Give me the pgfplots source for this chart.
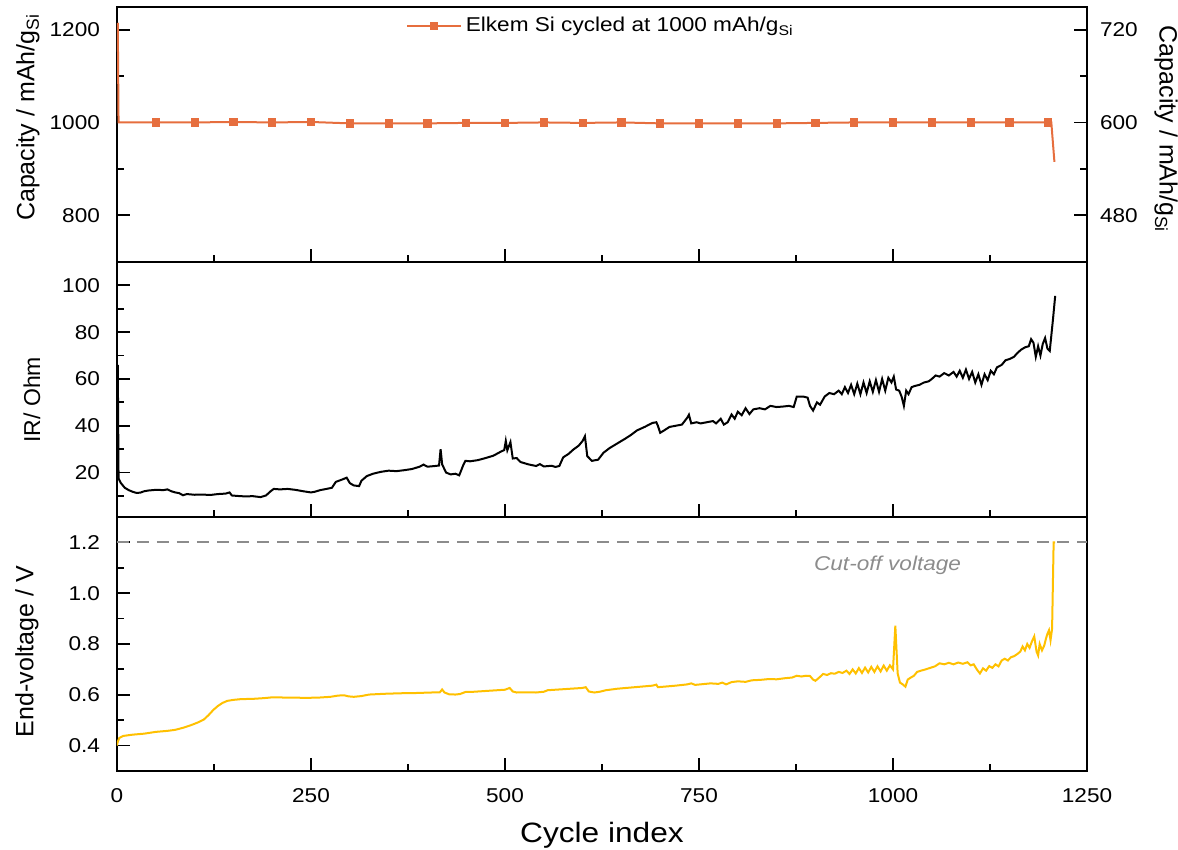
\documentclass[border=0pt]{standalone}
\usepackage{fontspec}
\setmainfont{Liberation Sans}[FakeStretch=1.13]
\newfontfamily\ylabfont{Liberation Sans}
\usepackage{pgfplots}
\pgfplotsset{compat=1.18}
\definecolor{capc}{RGB}{230,110,62}
\definecolor{volc}{RGB}{255,192,0}
\definecolor{cutc}{RGB}{140,140,140}
\pgfplotsset{
  panel/.style={
    scale only axis, width=485pt,
    xmin=0, xmax=1250,
    xtick={0,250,...,1250}, minor xtick={125,375,...,1125},
    xtick pos=left, ytick pos=left,
    tick align=inside,
    major tick length=6.5pt, minor tick length=3.5pt,
    every tick/.style={black, line width=0.9pt},
    axis line style={line width=1pt},
    tick label style={font=\fontsize{10}{12}\selectfont},
    /pgf/number format/assume math mode=true,
    /pgf/number format/set thousands separator={},
    yticklabel style={xshift=-5pt},
    xticklabel style={yshift=-5pt},
    every axis y label/.style={},
  },
}
\begin{document}
\begin{tikzpicture}
\useasboundingbox (0,0) rectangle (589pt,425pt);
% ---------------- top panel ----------------
\begin{axis}[panel,
  at={(58.5pt,294pt)}, anchor=south west, height=127.5pt,
  ymin=699, ymax=1249,
  ytick={800,1000,1200}, minor ytick={900,1100},
  xticklabels={},
  ylabel={Capacity / mAh/g\textsubscript{Si}},
  ylabel style={at={(axis description cs:0,0.567)}, xshift=-44.5pt, rotate=90, anchor=center,
    font=\ylabfont\fontsize{12.5}{14}\selectfont},
  legend style={at={(axis description cs:0.5,1)}, anchor=north, draw=none, fill=none,
    font=\fontsize{10}{12}\selectfont, yshift=-1pt},
]
\addplot[capc, line width=1pt, forget plot] coordinates {
(1,1215) (2,1000) (50,1000) (100,1000) (150,1001) (200,1000) (250,1001) (300,998)
(350,998) (400,998) (450,999) (500,999) (550,1000) (600,999) (650,1000) (700,998)
(750,998) (800,998) (850,998) (900,999) (950,1000) (1000,1000) (1050,1000) (1100,1000)
(1150,1000) (1200,1000) (1204,1000) (1208,915)};
\addplot[capc, only marks, mark=square*, mark size=1.8pt,
  legend image code/.code={
    \draw[capc, line width=1pt] (0cm,0cm) -- (0.94cm,0cm);
    \fill[capc] (0.47cm-1.8pt,-1.8pt) rectangle (0.47cm+1.8pt,1.8pt);}]
coordinates {
(50,1000) (100,1000) (150,1001) (200,1000) (250,1001) (300,998) (350,998) (400,998)
(450,999) (500,999) (550,1000) (600,999) (650,1000) (700,998) (750,998) (800,998)
(850,998) (900,999) (950,1000) (1000,1000) (1050,1000) (1100,1000) (1150,1000) (1200,1000)};
\addlegendentry{Elkem Si cycled at 1000 mAh/g\textsubscript{Si}}
\end{axis}
% right axis of top panel
\begin{axis}[
  scale only axis, width=485pt, height=127.5pt,
  at={(58.5pt,294pt)}, anchor=south west,
  xmin=0, xmax=1250, axis x line=none,
  axis y line*=right,
  ymin=419.4, ymax=749.4,
  ytick={480,600,720}, minor ytick={540,660},
  tick align=inside,
  major tick length=6.5pt, minor tick length=3.5pt,
  every tick/.style={black, line width=0.9pt},
  axis line style={line width=1pt},
  tick label style={font=\fontsize{10}{12}\selectfont},
  /pgf/number format/assume math mode=true,
  yticklabel style={xshift=3pt},
  ylabel={Capacity / mAh/g\textsubscript{Si}},
  every axis y label/.style={at={(axis description cs:1,0.52)}, xshift=39.5pt, rotate=-90, anchor=center,
    font=\ylabfont\fontsize{12.5}{14}\selectfont},
]
\addplot[draw=none] coordinates {(0,600)};
\end{axis}
% ---------------- middle panel ----------------
\begin{axis}[panel,
  at={(58.5pt,166.5pt)}, anchor=south west, height=127.5pt,
  ymin=1, ymax=110,
  ytick={20,40,...,100}, minor ytick={10,30,...,90},
  xticklabels={},
  ylabel={IR/ Ohm},
  ylabel style={at={(axis description cs:0,0.46)}, xshift=-42.5pt, rotate=90, anchor=center,
    font=\ylabfont\fontsize{11.5}{14}\selectfont},
]
\addplot[black, line width=1pt] coordinates {
(1,66) (2,17.5) (5,15.5) (10,13.5) (15,12.5) (20,11.8) (25,11.3) (30,11.4) (35,12) (40,12.3)
(50,12.6) (60,12.5) (65,12.8) (70,12) (75,11.5) (80,11.2) (85,10.3) (90,10.8) (100,10.5)
(110,10.6) (120,10.4) (130,10.8) (140,11) (145,11.5) (148,10.2) (155,10) (165,9.8) (175,9.9)
(185,9.5) (192,10.2) (198,12) (202,13) (210,12.8) (220,13) (230,12.6) (240,12) (250,11.5)
(255,11.8) (262,12.5) (270,13) (277,13.5) (282,16) (290,17) (296,17.8) (300,15.5) (305,14.5)
(312,14.2) (315,16.5) (322,18.5) (330,19.5) (340,20.3) (350,20.8) (360,20.6) (370,21)
(380,21.5) (390,22.5) (395,23.4) (400,22.5) (410,22.8) (415,23) (417,30) (419,23.5)
(424,20) (430,19.2) (436,19.5) (441,18.8) (446,23) (449,25) (455,24.8) (465,25.3)
(475,26.2) (485,27.2) (495,29) (499,29.6) (501,33.5) (503,29.5) (507,33) (510,26)
(515,26.2) (520,24.5) (530,23.5) (540,22.8) (545,23.6) (550,22.6) (560,22.9) (565,22.4)
(570,22.8) (575,26.5) (582,28) (588,29.8) (595,31.5) (600,33.5) (603,35.5) (606,27)
(612,25) (620,25.5) (627,28.5) (635,30.5) (645,32.5) (655,34.5) (662,36) (670,38)
(680,39.5) (690,41.2) (695,41.5) (697,40) (700,37) (705,38) (712,39.5) (720,40)
(728,40.5) (735,43.5) (737,44.7) (740,41) (747,41.5) (752,41) (760,41.5) (768,42)
(772,41) (778,43) (782,40.5) (787,41.5) (792,44.8) (796,43) (800,46) (805,44.5)
(810,47.5) (815,45) (820,47) (828,47.5) (835,47) (842,48.5) (850,48) (858,48.2)
(866,48.5) (872,48) (876,52.5) (884,52.5) (890,52) (893,48.5) (897,46.5) (902,50)
(906,49) (912,52.5) (918,54) (924,53.5) (930,55) (934,53.5) (938,56.5) (942,54)
(946,57.5) (950,53.5) (954,58) (958,53.5) (962,58.5) (966,54) (970,59) (974,54.5)
(978,59.5) (982,54.5) (986,60) (990,55) (994,60.5) (998,58.5) (1001,61) (1004,55.5)
(1008,55) (1011,52.5) (1014,48.5) (1017,55) (1020,53.5) (1024,56.5) (1028,57) (1034,57.5)
(1040,58.5) (1046,59) (1050,60) (1055,61.5) (1060,61) (1066,62.5) (1072,61.5) (1078,63)
(1082,61) (1086,63.5) (1090,60.5) (1094,64) (1098,60) (1102,63) (1106,58.5) (1110,62)
(1114,57.5) (1118,62) (1122,59.5) (1126,63.5) (1130,62) (1134,65) (1140,66) (1145,68)
(1150,68.5) (1156,69.5) (1160,71) (1165,72.5) (1170,73.5) (1175,74) (1178,77) (1181,75.5)
(1184,69.5) (1187,74) (1190,70) (1193,75) (1196,77.5) (1199,73) (1202,72) (1206,85)
(1209,95.5)};
\end{axis}
% ---------------- bottom panel ----------------
\begin{axis}[panel,
  at={(58.5pt,39.5pt)}, anchor=south west, height=127pt,
  ymin=0.3, ymax=1.3,
  ytick={0.4,0.6,...,1.21}, minor ytick={0.5,0.7,0.9,1.1},
  yticklabel style={/pgf/number format/fixed, /pgf/number format/fixed zerofill,
    /pgf/number format/precision=1},
  ylabel={End-voltage / V},
  ylabel style={at={(axis description cs:0,0.47)}, xshift=-45pt, rotate=90, anchor=center,
    font=\ylabfont\fontsize{12.5}{14}\selectfont},
  xlabel={Cycle index},
  every axis x label/.style={at={(axis description cs:0.5,0)}, anchor=north, yshift=-22pt,
    font=\fontsize{14}{16}\selectfont},
]
\addplot[cutc, line width=1pt, dash pattern=on 6pt off 4pt] coordinates {(0,1.2) (1250,1.2)};
\addplot[volc, line width=1pt] coordinates {
(0,0.40) (1,0.415) (3,0.43) (8,0.438) (20,0.443) (35,0.447) (50,0.454) (65,0.458) (75,0.462)
(85,0.47) (95,0.48) (105,0.492) (112,0.503) (118,0.52) (124,0.54) (130,0.556) (136,0.568)
(142,0.576) (150,0.58) (160,0.583) (175,0.584) (190,0.587) (200,0.59) (220,0.589)
(245,0.588) (260,0.589) (275,0.592) (285,0.597) (293,0.598) (298,0.594) (305,0.592)
(315,0.595) (325,0.601) (345,0.604) (365,0.606) (385,0.607) (405,0.609) (416,0.61)
(419,0.621) (422,0.609) (428,0.602) (436,0.601) (442,0.603) (449,0.611) (460,0.612)
(475,0.615) (490,0.618) (500,0.62) (506,0.627) (510,0.613) (515,0.609) (525,0.61)
(540,0.609) (550,0.612) (555,0.618) (570,0.621) (585,0.624) (600,0.627) (604,0.63)
(608,0.613) (615,0.609) (622,0.612) (630,0.618) (645,0.624) (660,0.628) (675,0.632)
(690,0.636) (695,0.640) (697,0.63) (705,0.632) (720,0.636) (735,0.641) (740,0.645)
(745,0.639) (755,0.642) (765,0.645) (775,0.643) (780,0.648) (785,0.641) (792,0.65)
(800,0.653) (810,0.651) (818,0.657) (830,0.659) (840,0.662) (850,0.661) (860,0.665)
(870,0.668) (876,0.675) (882,0.672) (888,0.675) (893,0.674) (897,0.66) (900,0.655)
(905,0.668) (910,0.682) (915,0.678) (920,0.685) (925,0.683) (930,0.69) (935,0.686)
(940,0.695) (944,0.682) (948,0.7) (952,0.684) (956,0.705) (960,0.686) (964,0.707)
(968,0.688) (972,0.71) (976,0.69) (980,0.712) (984,0.692) (988,0.715) (992,0.695)
(996,0.716) (1000,0.70) (1003,0.872) (1006,0.684) (1009,0.648) (1013,0.64) (1016,0.632)
(1019,0.66) (1023,0.668) (1027,0.675) (1031,0.69) (1036,0.695) (1042,0.7) (1048,0.706)
(1054,0.712) (1060,0.724) (1066,0.72) (1072,0.726) (1078,0.72) (1084,0.727) (1090,0.722)
(1096,0.728) (1100,0.716) (1104,0.72) (1108,0.7) (1112,0.684) (1116,0.704) (1120,0.695)
(1124,0.713) (1128,0.706) (1132,0.72) (1136,0.712) (1140,0.735) (1144,0.742) (1148,0.735)
(1152,0.748) (1156,0.752) (1160,0.76) (1164,0.77) (1167,0.79) (1170,0.775) (1173,0.80)
(1176,0.785) (1179,0.81) (1182,0.83) (1185,0.77) (1187,0.755) (1189,0.80) (1192,0.775)
(1195,0.795) (1197,0.82) (1199,0.84) (1201,0.854) (1203,0.815) (1205,0.86) (1207,1.2)
(1209,1.2)};
\node[text=cutc, font=\itshape\fontsize{10}{12}\selectfont] at (axis cs:993,1.11) {Cut-off voltage};
\end{axis}
\end{tikzpicture}
\end{document}
